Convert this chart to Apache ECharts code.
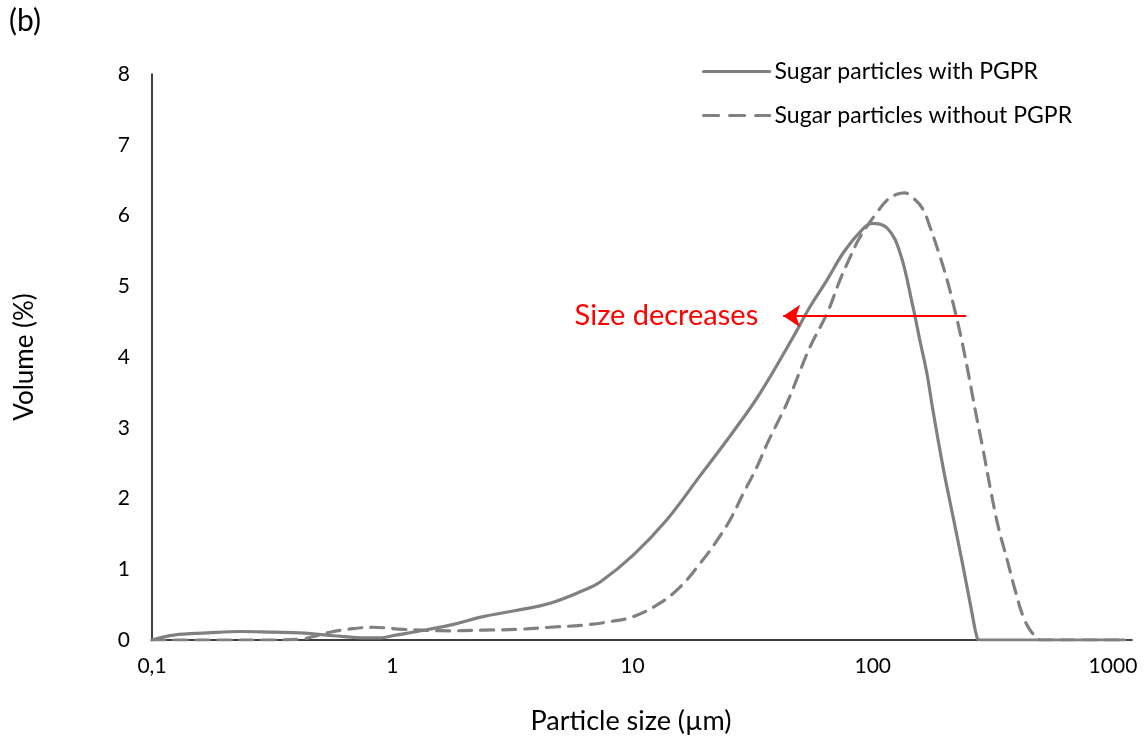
<!DOCTYPE html>
<html>
<head>
<meta charset="utf-8">
<script src="https://cdn.jsdelivr.net/npm/echarts@6/dist/echarts.min.js"></script>
<style>html,body{margin:0;padding:0;background:#fff}#c{width:1144px;height:740px}</style>
</head>
<body>
<div id="c"></div>
<script>
// Particle size (µm) and volume (%) — sugar particles with PGPR
const withSize = [0.1, 0.123, 0.17, 0.233, 0.32, 0.414, 0.568, 0.787, 0.9, 1.0, 1.27, 1.74, 2.39, 3.31, 4.54, 6.24, 7.34, 10.07, 13.9, 19.2, 26.2, 34.0, 46.6, 54.8, 64.6, 75.3, 88.7, 99.4, 115, 130, 147, 157, 168, 178, 196, 216, 238, 259, 272, 280, 400, 700, 1120];
const withVol  = [0, 0.07, 0.10, 0.12, 0.11, 0.10, 0.06, 0.03, 0.03, 0.06, 0.12, 0.21, 0.33, 0.42, 0.52, 0.70, 0.82, 1.20, 1.70, 2.33, 2.94, 3.49, 4.28, 4.71, 5.09, 5.47, 5.77, 5.89, 5.82, 5.47, 4.71, 4.24, 3.77, 3.25, 2.45, 1.74, 1.03, 0.38, 0.03, 0, 0, 0, 0];
// Sugar particles without PGPR
const withoutSize = [0.1, 0.2, 0.3, 0.414, 0.47, 0.55, 0.65, 0.83, 1.11, 1.74, 2.39, 3.31, 4.54, 6.24, 8.08, 10.07, 13.0, 15.8, 19.2, 22.1, 25.5, 28.9, 33.0, 36.4, 41.2, 44.5, 54.8, 64.6, 73.1, 80.5, 88.7, 104, 115, 126, 136, 147, 161, 173, 191, 204, 216, 231, 247, 259, 267, 288, 308, 333, 363, 391, 423, 452, 484, 497, 700, 1120];
const withoutVol  = [0, 0, 0, 0.01, 0.05, 0.11, 0.15, 0.18, 0.15, 0.13, 0.14, 0.15, 0.18, 0.21, 0.26, 0.33, 0.52, 0.75, 1.09, 1.37, 1.70, 2.07, 2.45, 2.78, 3.15, 3.39, 4.14, 4.62, 5.09, 5.41, 5.70, 6.04, 6.22, 6.30, 6.32, 6.25, 6.10, 5.84, 5.41, 5.09, 4.76, 4.34, 3.86, 3.49, 3.25, 2.69, 2.16, 1.60, 1.13, 0.71, 0.33, 0.14, 0.03, 0, 0, 0];
// Annotation arrow (from, to) in data units
const arrowFrom = [245, 4.58];
const arrowTo = [42.4, 4.58];
const seriesNames = ['Sugar particles with PGPR', 'Sugar particles without PGPR'];

const FONT = 'Lato';
const GREY = '#808080';
const DASH = [13, 9];
const pairs = (xs, ys) => xs.map((x, i) => [x, ys[i]]);

const chart = echarts.init(document.getElementById('c'), null, {renderer: 'canvas'});
chart.setOption({
  animation: false,
  textStyle: {fontFamily: FONT},
  graphic: [{type: 'text', left: 9, top: 6, style: {text: '(b)', fontSize: 30, fontFamily: FONT, fill: '#000'}}],
  grid: {left: 152, right: 12, top: 74, bottom: 100},
  legend: {
    orient: 'vertical', left: 697, top: 55, itemWidth: 66, itemHeight: 24, itemGap: 21,
    textStyle: {fontSize: 23, color: '#000', fontFamily: FONT},
    itemStyle: {opacity: 0},
    lineStyle: {width: 3.2, color: GREY},
    data: [
      {name: seriesNames[0]},
      {name: seriesNames[1], lineStyle: {type: [15, 11], width: 3.2, color: GREY}}
    ]
  },
  xAxis: {
    type: 'log', logBase: 10, min: 0.1, max: 1200,
    name: 'Particle size (µm)', nameLocation: 'middle', nameGap: 68,
    nameTextStyle: {fontSize: 27, color: '#000', fontFamily: FONT, padding: [0, 22, 0, 0]},
    axisLine: {lineStyle: {color: '#000', width: 1.5}},
    axisTick: {show: false}, splitLine: {show: false},
    axisLabel: {
      fontSize: 21, color: '#000', margin: 16, fontFamily: FONT,
      formatter: v => { const l = Math.log10(v); return Math.abs(l - Math.round(l)) > 1e-6 ? '' : String(v).replace('.', ','); }
    }
  },
  yAxis: {
    type: 'value', min: 0, max: 8, interval: 1,
    name: 'Volume (%)', nameLocation: 'middle', nameGap: 114,
    nameTextStyle: {fontSize: 26, color: '#000', fontFamily: FONT},
    axisLine: {show: true, lineStyle: {color: '#000', width: 1.5}},
    axisTick: {show: false}, splitLine: {show: false},
    axisLabel: {fontSize: 21, color: '#000', margin: 22, fontFamily: FONT}
  },
  series: [
    {
      name: seriesNames[0], type: 'line', data: pairs(withSize, withVol),
      showSymbol: false, symbol: 'none', smooth: 0.4,
      lineStyle: {color: GREY, width: 3.2, cap: 'round', join: 'round'},
      itemStyle: {color: GREY}, z: 3,
      markLine: {
        silent: true, symbol: ['none', 'arrow'], symbolSize: 17,
        lineStyle: {color: '#ff0000', width: 2, type: 'solid'},
        label: {show: true, position: 'end', formatter: 'Size decreases', color: '#ff0000', fontSize: 29, fontFamily: FONT, distance: 25},
        data: [[{coord: arrowFrom}, {coord: arrowTo}]]
      }
    },
    {
      name: seriesNames[1], type: 'line', data: pairs(withoutSize, withoutVol),
      showSymbol: false, symbol: 'none', smooth: 0.4,
      lineStyle: {color: GREY, width: 3.2, type: DASH, cap: 'round', join: 'round'},
      itemStyle: {color: GREY}, z: 2
    }
  ]
});
</script>
</body>
</html>
